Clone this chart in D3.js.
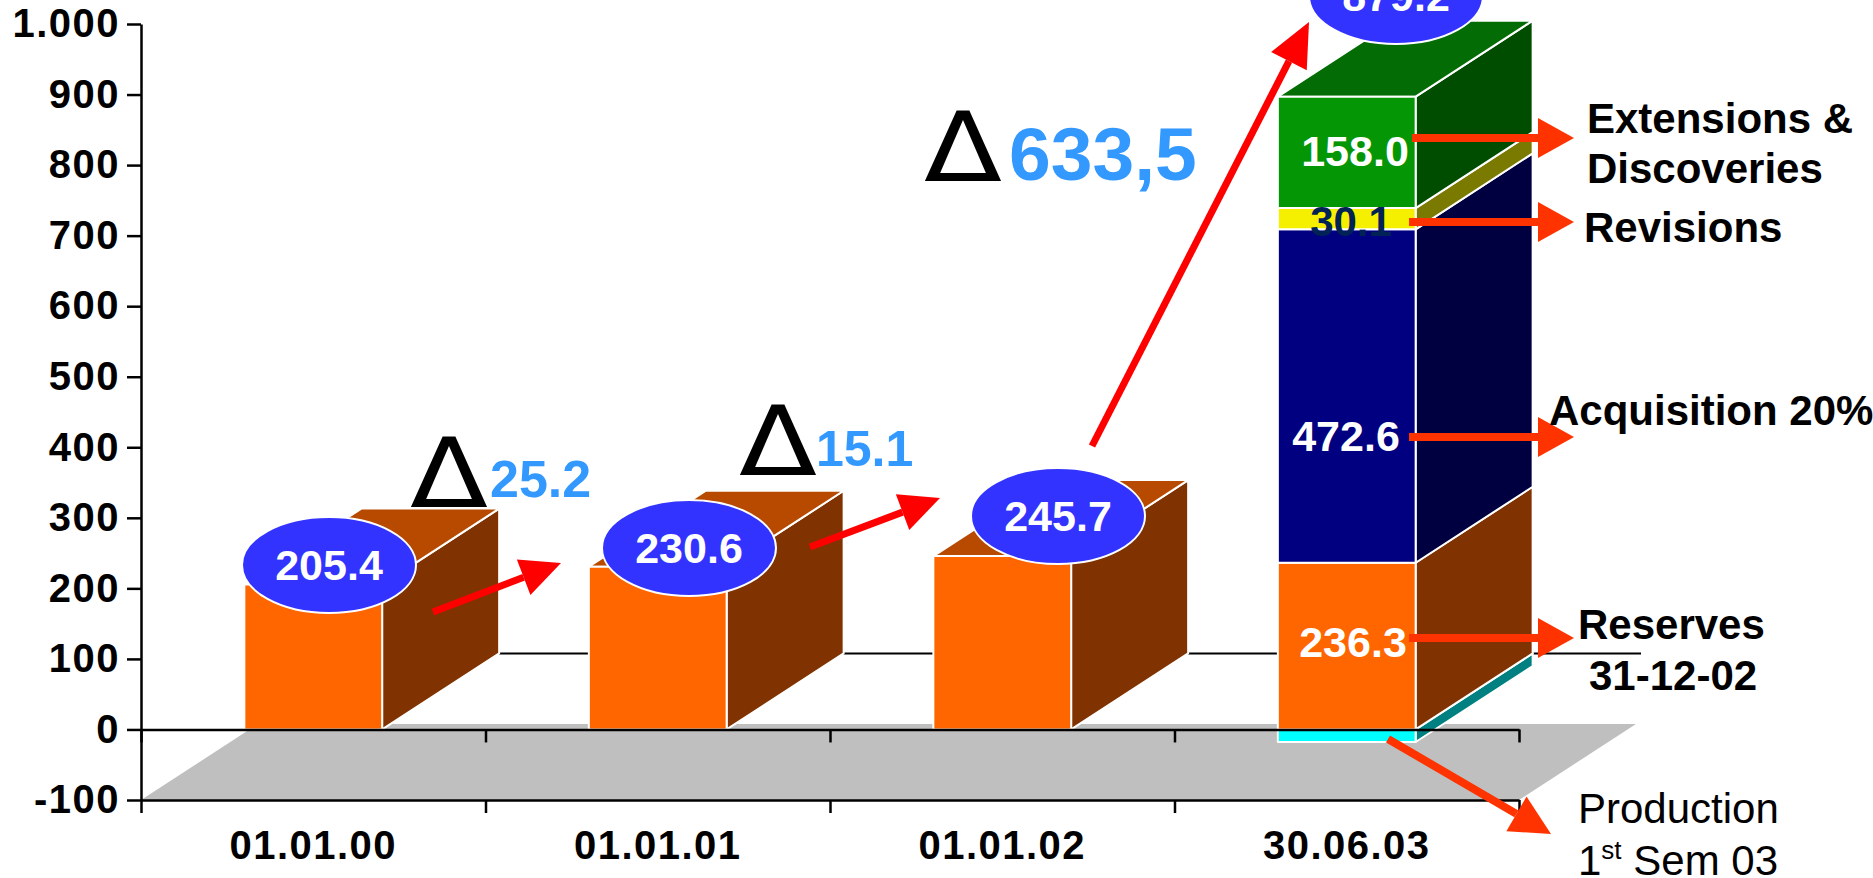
<!DOCTYPE html>
<html>

<head>
    <meta charset="UTF-8">
    <script src="https://d3js.org/d3.v7.min.js"></script>
    <style>
        html,
        body {
            margin: 0;
            background: #fff;
            overflow: hidden;
        }

        text {
            font-family: 'Liberation Sans', Arial, sans-serif;
            font-weight: bold;
        }

        .axis text {
            font-size: 40px;
            letter-spacing: 1.5px;
            fill: #000;
        }

        .axis path,
        .axis line {
            stroke: #000;
            stroke-width: 2.5px;
        }
    </style>
</head>

<body>
    <svg id="chart" width="1873" height="878"></svg>
    <script>
        // values
        var categories = ["01.01.00", "01.01.01", "01.01.02", "30.06.03"];
        var openingReserves = [205.4, 230.6, 245.7];
        var stackNames = ["Reserves", "Acquisition", "Revisions", "Extensions"];
        var stackValues = [236.3, 472.6, 30.1, 158.0];
        var production = -17.8;
        var finalTotal = 879.2;
        var yTicks = [-100, 0, 100, 200, 300, 400, 500, 600, 700, 800, 900, 1000];
        var deltaLabels = ["25.2", "15.1", "633,5"];

        var width = 1873, height = 878;
        var depthX = 117, depthY = -76; // 3d offset of the chart box

        var svg = d3.select("#chart");

        var x = d3.scaleBand().domain(categories).range([141, 1519]);
        var edges = d3.scalePoint().domain(d3.range(categories.length + 1)).range(x.range());
        var y = d3.scaleLinear().domain([-100, 1000]).range([800, 24]);
        var barW = x.bandwidth() * 0.4;

        var colors = {
            Reserves: { front: "#ff6600", side: "#803300", top: "#b84a00" },
            Acquisition: { front: "#000080", side: "#000040", top: "#000060" },
            Revisions: { front: "#f5f000", side: "#7a7a00", top: "#b0b000" },
            Extensions: { front: "#059605", side: "#004d00", top: "#046c04" },
            Production: { front: "#00ffff", side: "#008080", top: "#00c0c0" }
        };

        // floor of the box, at the -100 level
        var x0 = x.range()[0], x1 = x.range()[1];
        svg.append("polygon")
            .attr("points", [
                [x0, y(-100)], [x0 + depthX, y(-100) + depthY],
                [x1 + depthX, y(-100) + depthY], [x1, y(-100)]
            ].join(" "))
            .attr("fill", "#bfbfbf");

        // back wall zero line
        svg.append("line")
            .attr("x1", x0 + depthX).attr("x2", x1 + depthX + 5)
            .attr("y1", y(0) + depthY).attr("y2", y(0) + depthY)
            .attr("stroke", "#000").attr("stroke-width", 2);

        // one row per block of a bar
        var blocks = [];
        openingReserves.forEach(function (v, i) {
            blocks.push({ cat: categories[i], from: 0, to: v, name: "Reserves", cap: true });
        });
        blocks.push({ cat: categories[3], from: production, to: 0, name: "Production", cap: false });
        var sum = 0;
        stackValues.forEach(function (v, i) {
            blocks.push({ cat: categories[3], from: sum, to: sum + v, name: stackNames[i], cap: i == stackValues.length - 1 });
            sum += v;
        });

        function left(d) { return x(d.cat) + x.bandwidth() / 2 - barW / 2; }

        var bar = svg.selectAll("g.block").data(blocks).enter().append("g").attr("class", "block")
            .attr("stroke", "#fff").attr("stroke-width", 2).attr("stroke-linejoin", "round");

        bar.append("polygon")
            .attr("points", function (d) {
                var r = left(d) + barW;
                return [[r, y(d.from)], [r + depthX, y(d.from) + depthY], [r + depthX, y(d.to) + depthY], [r, y(d.to)]].join(" ");
            })
            .attr("fill", function (d) { return colors[d.name].side; });

        bar.filter(function (d) { return d.cap; }).append("polygon")
            .attr("points", function (d) {
                var l = left(d);
                return [[l, y(d.to)], [l + depthX, y(d.to) + depthY], [l + barW + depthX, y(d.to) + depthY], [l + barW, y(d.to)]].join(" ");
            })
            .attr("fill", function (d) { return colors[d.name].top; });

        bar.append("rect")
            .attr("x", left)
            .attr("y", function (d) { return y(d.to); })
            .attr("width", barW)
            .attr("height", function (d) { return y(d.from) - y(d.to); })
            .attr("fill", function (d) { return colors[d.name].front; });

        // axes
        svg.append("g").attr("class", "axis")
            .attr("transform", "translate(" + x0 + ",0)")
            .call(d3.axisLeft(y).tickValues(yTicks).tickSize(14).tickPadding(7).tickSizeOuter(0)
                .tickFormat(function (d) { return d == 1000 ? "1.000" : d; }));

        [0, -100].forEach(function (level) {
            svg.append("g").attr("class", "axis")
                .attr("transform", "translate(0," + y(level) + ")")
                .call(d3.axisBottom(edges).tickSize(13).tickSizeOuter(0).tickFormat(""));
        });

        var catAxis = svg.append("g").attr("class", "axis")
            .attr("transform", "translate(0," + y(-100) + ")")
            .call(d3.axisBottom(x).tickSize(0).tickPadding(31));
        catAxis.select(".domain").remove();

        // arrows
        function arrow(a, b, color, w, headL, headH) {
            var ang = Math.atan2(b[1] - a[1], b[0] - a[0]);
            var ux = Math.cos(ang), uy = Math.sin(ang);
            var base = [b[0] - ux * headL, b[1] - uy * headL];
            svg.append("line")
                .attr("x1", a[0]).attr("y1", a[1]).attr("x2", base[0]).attr("y2", base[1])
                .attr("stroke", color).attr("stroke-width", w);
            svg.append("polygon")
                .attr("points", [b,
                    [base[0] - uy * headH, base[1] + ux * headH],
                    [base[0] + uy * headH, base[1] - ux * headH]].join(" "))
                .attr("fill", color);
        }

        arrow([433, 612], [561, 563], "#ff0000", 7, 40, 19);
        arrow([810, 547], [940, 498], "#ff0000", 7, 40, 19);
        arrow([1092, 446], [1309, 22], "#ff0000", 7, 44, 20);
        arrow([1412, 138], [1574, 138], "#ff3300", 8, 36, 20);
        arrow([1409, 222], [1574, 222], "#ff3300", 8, 36, 20);
        arrow([1409, 437], [1574, 437], "#ff3300", 8, 36, 20);
        arrow([1409, 638], [1574, 638], "#ff3300", 8, 36, 20);
        arrow([1388, 739], [1551, 834], "#ff3300", 8, 40, 20);

        // ovals with the totals
        var ovalX = [329, 689, 1058, 1396];
        var ovalY = [565, 548, 516, -4];
        var totals = openingReserves.concat([finalTotal]);

        var oval = svg.selectAll("g.oval").data(totals).enter().append("g").attr("class", "oval")
            .attr("transform", function (d, i) { return "translate(" + ovalX[i] + "," + ovalY[i] + ")"; });
        oval.append("ellipse")
            .attr("rx", 87).attr("ry", 48)
            .attr("fill", "#3333ff").attr("stroke", "#fff").attr("stroke-width", 2);
        oval.append("text")
            .attr("text-anchor", "middle").attr("y", 15)
            .attr("font-size", 43).attr("fill", "#fff")
            .text(function (d) { return d.toFixed(1); });

        function label(str, px, py, size, color, anchor, weight) {
            return svg.append("text")
                .attr("x", px).attr("y", py)
                .attr("font-size", size).attr("fill", color)
                .attr("text-anchor", anchor || "start")
                .style("font-weight", weight || "bold")
                .text(str);
        }

        // delta signs and differences
        [[449, 507], [778, 475], [963, 181]].forEach(function (p) {
            label("Δ", p[0], p[1], 97, "#000", "middle", "normal")
                .style("font-family", "'DejaVu Sans'")
                .attr("textLength", 78).attr("lengthAdjust", "spacingAndGlyphs");
        });
        label(deltaLabels[0], 490, 497, 52, "#3399ff");
        label(deltaLabels[1], 816, 466, 50, "#3399ff");
        label(deltaLabels[2], 1009, 180, 75, "#3399ff");

        // values inside the last bar
        label(stackValues[3].toFixed(1), 1355, 166, 43, "#fff", "middle");
        label(stackValues[2].toFixed(1), 1351, 236, 42, "#002255", "middle");
        label(stackValues[1].toFixed(1), 1346, 451, 43, "#fff", "middle");
        label(stackValues[0].toFixed(1), 1353, 657, 43, "#fff", "middle");

        // names on the right
        label("Extensions &", 1587, 133, 42, "#000");
        label("Discoveries", 1587, 183, 42, "#000");
        label("Revisions", 1584, 242, 42, "#000");
        label("Acquisition 20%", 1549, 425, 42, "#000");
        label("Reserves", 1578, 639, 42, "#000");
        label("31-12-02", 1589, 690, 42, "#000");
        label("Production", 1578, 823, 42, "#000", "start", "normal");
        var sem = label("1", 1578, 875, 42, "#000", "start", "normal");
        sem.append("tspan").attr("dy", -16).attr("font-size", 26).text("st");
        sem.append("tspan").attr("dy", 16).text(" Sem 03");
    </script>
</body>

</html>
